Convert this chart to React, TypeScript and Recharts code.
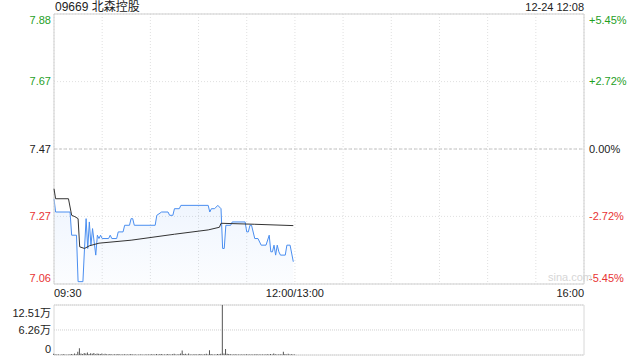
import React from 'react';
import {
  ComposedChart,
  Area,
  Line,
  Bar,
  XAxis,
  YAxis,
  CartesianGrid,
  ReferenceLine,
  ReferenceArea,
} from 'recharts';

const prevClose = 7.47;
const pctTicks = [5.45, 2.72, 0, -2.72, -5.45];
const leftTickLabels = ['7.88', '7.67', '7.47', '7.27', '7.06'];
const rightTickLabels = ['+5.45%', '+2.72%', '0.00%', '-2.72%', '-5.45%'];
const timeLabels = ['09:30', '12:00/13:00', '16:00'];
const volTickLabels = ['12.51万', '6.26万', '0'];
const volTicks = [125100, 62600, 0];

// minutes since 09:30 (morning session only, lunch break follows)
const priceMin = [0, 1, 10, 11, 14, 15, 18, 19, 20, 21, 22, 23, 24, 25, 26, 27, 28, 29, 30, 34, 35, 36, 39, 40, 43, 44, 47, 48, 49, 50, 63, 64, 67, 71, 72, 74, 75, 78, 79, 96, 97, 98, 100, 102, 104, 105, 106, 107, 110, 111, 119, 120, 121, 122, 123, 125, 127, 129, 132, 134, 135, 136, 137, 138, 139, 140, 141, 144, 145, 147, 149];
const prices = [7.32, 7.28, 7.28, 7.21, 7.21, 7.07, 7.07, 7.17, 7.26, 7.17, 7.25, 7.18, 7.23, 7.19, 7.15, 7.21, 7.20, 7.21, 7.20, 7.20, 7.21, 7.20, 7.20, 7.22, 7.22, 7.24, 7.24, 7.26, 7.26, 7.24, 7.24, 7.27, 7.28, 7.28, 7.27, 7.27, 7.29, 7.29, 7.30, 7.30, 7.28, 7.29, 7.29, 7.30, 7.29, 7.17, 7.17, 7.24, 7.24, 7.25, 7.25, 7.22, 7.22, 7.24, 7.24, 7.20, 7.20, 7.18, 7.18, 7.21, 7.16, 7.16, 7.18, 7.15, 7.18, 7.16, 7.15, 7.15, 7.18, 7.18, 7.13];

const avgMin = [0, 1, 9, 11, 13, 15, 16, 19, 22, 28, 48, 75, 96, 103, 104, 125, 149];
const avgPrices = [7.35, 7.32, 7.32, 7.27, 7.266, 7.26, 7.175, 7.17, 7.178, 7.186, 7.195, 7.213, 7.226, 7.234, 7.246, 7.243, 7.239];

// volume per minute, 09:30 .. 12:00
const volumes = [
  3000, 1500, 1000, 1200, 800, 1500, 2000, 1000, 600, 1200,
  1500, 2500, 1200, 3500, 2000, 8000, 17000, 4000, 2500, 5000,
  3500, 6000, 2500, 4500, 3000, 5000, 2000, 4000, 3000, 2500,
  3500, 1500, 3000, 2000, 1200, 2500, 1500, 1000, 2000, 1500,
  2500, 1000, 1500, 1200, 2000, 1500, 1000, 1200, 2500, 1500,
  1200, 1000, 800, 1500, 1000, 1200, 800, 1000, 1500, 1000,
  1200, 2000, 1000, 1500, 2500, 1200, 1800, 2200, 1000, 1500,
  1200, 2500, 1000, 1500, 2000, 3000, 1200, 1500, 2000, 3500,
  11000, 2500, 3000, 1500, 4000, 1200, 1000, 1500, 2000, 1000,
  1500, 2500, 1200, 1000, 2000, 3000, 1500, 12000, 2500, 1500,
  1000, 1500, 2500, 1800, 3000, 125100, 4000, 15000, 3000, 2500,
  2000, 1500, 1200, 2000, 1500, 1000, 1200, 1500, 1000, 1200,
  2000, 1500, 1000, 1200, 1500, 1000, 2000, 1200, 1000, 1500,
  1200, 1000, 1500, 2000, 1200, 2500, 1500, 4000, 2000, 1500,
  1200, 2000, 1500, 8000, 2500, 1500, 3000, 1200, 2000, 1500,
  1000,
];

const priceTicks = pctTicks.map((p) => prevClose * (1 + p / 100));
const yMin = priceTicks[4];
const yMax = priceTicks[0];
const xTicks = Array.from({ length: 12 }, (_, i) => i * 30);

const rows = volumes.map((v, m) => {
  const pi = priceMin.indexOf(m);
  const ai = avgMin.indexOf(m);
  return {
    m,
    p: pi >= 0 ? prices[pi] : null,
    a: ai >= 0 ? avgPrices[ai] : null,
    v,
  };
});

const FONT = '"Liberation Sans", Arial, "Noto Sans CJK SC", sans-serif';
const GREEN = '#1fa01f';
const RED = '#e83333';

function colorFor(i: number) {
  if (i < 2) return GREEN;
  if (i > 2) return RED;
  return '#222';
}

function tickIndex(value: number) {
  let best = 0;
  priceTicks.forEach((t, i) => {
    if (Math.abs(t - value) < Math.abs(priceTicks[best] - value)) best = i;
  });
  return best;
}

function shiftFor(i: number, last: number) {
  if (i === 0) return 6;
  if (i === last) return -6;
  return 0;
}

function LeftTick(props: any) {
  const i = tickIndex(props.payload.value);
  return (
    <text x={51} y={props.y + shiftFor(i, 4)} dy="0.35em" textAnchor="end" fontSize={11} fill={colorFor(i)} fontFamily={FONT}>
      {leftTickLabels[i]}
    </text>
  );
}

function RightTick(props: any) {
  const i = tickIndex(props.payload.value);
  return (
    <text x={589} y={props.y + shiftFor(i, 4)} dy="0.35em" textAnchor="start" fontSize={11} fill={colorFor(i)} fontFamily={FONT}>
      {rightTickLabels[i]}
    </text>
  );
}

function TimeTick(props: any) {
  const v = props.payload.value;
  const idx = v === 0 ? 0 : v === 150 ? 1 : v === 330 ? 2 : -1;
  if (idx < 0) return null;
  const anchor = idx === 0 ? 'start' : idx === 1 ? 'middle' : 'end';
  return (
    <text x={props.x} y={297} textAnchor={anchor} fontSize={11} fill="#222" fontFamily={FONT}>
      {timeLabels[idx]}
    </text>
  );
}

function VolTick(props: any) {
  const i = volTicks.indexOf(props.payload.value);
  const shift = i === 0 ? 8 : i === 2 ? -6 : 0;
  return (
    <text x={51} y={props.y + shift} dy="0.35em" textAnchor="end" fontSize={11} fill="#222" fontFamily={FONT}>
      {volTickLabels[i]}
    </text>
  );
}

export default function App() {
  return (
    <div style={{ position: 'absolute', left: 0, top: 0, width: 640, height: 360, background: '#fff', fontFamily: FONT }}>
      <div style={{ position: 'absolute', left: 55, top: 0, fontSize: 12, color: '#222', lineHeight: '14px' }}>
        09669 北森控股
      </div>
      <div style={{ position: 'absolute', right: 56, top: 1, fontSize: 11, color: '#222', lineHeight: '13px' }}>
        12-24 12:08
      </div>

      <div style={{ position: 'absolute', left: 0, top: 0 }}>
        <ComposedChart width={640} height={300} data={rows} margin={{ top: 14, right: 0, bottom: 0, left: 0 }}>
          <defs>
            <linearGradient id="pFill" x1="0" y1="0" x2="0" y2="1">
              <stop offset="0%" stopColor="#4a8ef0" stopOpacity={0.15} />
              <stop offset="100%" stopColor="#4a8ef0" stopOpacity={0.03} />
            </linearGradient>
          </defs>
          <CartesianGrid stroke="#e0e0e0" strokeDasharray="1 2" />
          <XAxis
            dataKey="m"
            type="number"
            domain={[0, 330]}
            ticks={xTicks}
            interval={0}
            tickLine={false}
            axisLine={false}
            height={16}
            tick={<TimeTick />}
          />
          <YAxis
            domain={[yMin, yMax]}
            ticks={priceTicks}
            interval={0}
            allowDataOverflow
            width={54}
            tickLine={false}
            axisLine={false}
            tick={<LeftTick />}
          />
          <YAxis
            yAxisId="r"
            orientation="right"
            domain={[yMin, yMax]}
            ticks={priceTicks}
            interval={0}
            allowDataOverflow
            width={56}
            tickLine={false}
            axisLine={false}
            tick={<RightTick />}
          />
          <ReferenceLine y={prevClose} stroke="#c4c4c4" strokeDasharray="3 2" />
          <Area
            dataKey="p"
            type="linear"
            stroke="#4a8ef0"
            strokeWidth={1}
            fill="url(#pFill)"
            connectNulls
            dot={false}
            isAnimationActive={false}
          />
          <Line
            dataKey="a"
            type="linear"
            stroke="#333"
            strokeWidth={1}
            connectNulls
            dot={false}
            isAnimationActive={false}
          />
          <ReferenceArea x1={0} x2={330} y1={yMin} y2={yMax} fill="none" stroke="#cfcfcf" ifOverflow="visible" />
        </ComposedChart>
      </div>

      <div style={{ position: 'absolute', left: 548, top: 271, fontSize: 11, color: '#d6d6d6' }}>sina.com</div>

      <div style={{ position: 'absolute', left: 0, top: 300 }}>
        <ComposedChart width={640} height={60} data={rows} margin={{ top: 5, right: 0, bottom: 5, left: 0 }}>
          <CartesianGrid stroke="#d0d0d0" strokeDasharray="1 1" vertical={false} />
          <XAxis dataKey="m" type="number" domain={[0, 330]} hide />
          <YAxis
            domain={[0, 125100]}
            ticks={volTicks}
            interval={0}
            width={54}
            tickLine={false}
            axisLine={false}
            tick={<VolTick />}
          />
          <YAxis yAxisId="r" orientation="right" width={56} tick={false} tickLine={false} axisLine={false} />
          <Bar dataKey="v" fill="#555" barSize={1} isAnimationActive={false} />
          <ReferenceArea x1={0} x2={330} y1={0} y2={125100} fill="none" stroke="#d8d8d8" ifOverflow="visible" />
        </ComposedChart>
      </div>
    </div>
  );
}
